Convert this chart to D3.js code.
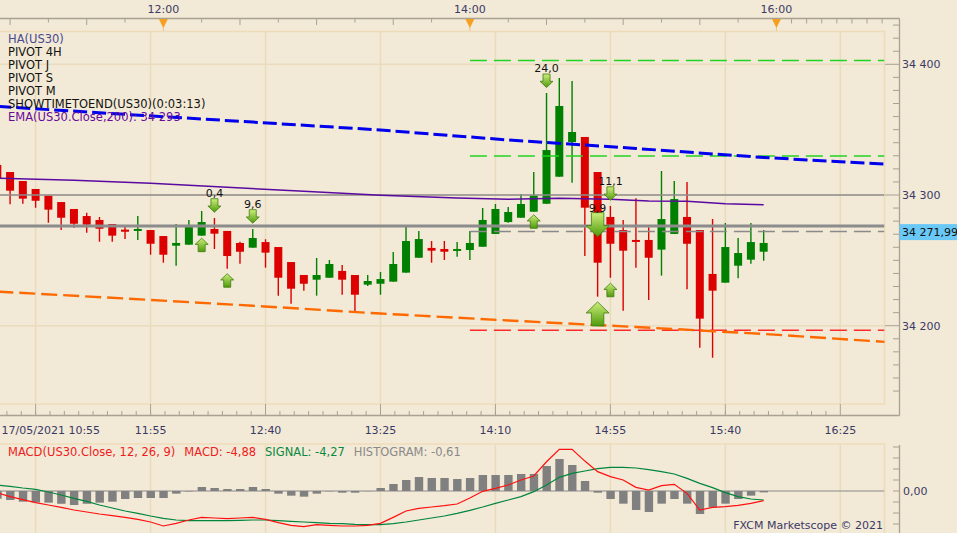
<!DOCTYPE html>
<html>
<head>
<meta charset="utf-8">
<script src="https://cdn.jsdelivr.net/npm/d3@7"></script>
<style>
  body { margin: 0; background: #f2e9d6; }
  svg { display: block; font-family: "DejaVu Sans", sans-serif; font-size: 11px; }
  .legend { font-size: 11.5px; }
</style>
</head>
<body>
<svg id="chart" width="957" height="533"></svg>
<script>
// 5 minute Heikin-Ashi candles, 17/05/2021
var times = ['10:55','11:00','11:05','11:10','11:15','11:20','11:25','11:30','11:35','11:40',
  '11:45','11:50','11:55','12:00','12:05','12:10','12:15','12:20','12:25','12:30',
  '12:35','12:40','12:45','12:50','12:55','13:00','13:05','13:10','13:15','13:20',
  '13:25','13:30','13:35','13:40','13:45','13:50','13:55','14:00','14:05','14:10',
  '14:15','14:20','14:25','14:30','14:35','14:40','14:45','14:50','14:55','15:00',
  '15:05','15:10','15:15','15:20','15:25','15:30','15:35','15:40','15:45','15:50','15:55'];

var haOpen = [34323.0,34317.6,34310.7,34304.6,34299.5,34294.6,34289.3,34283.9,34280.9,34277.8,
  34273.5,34272.7,34273.2,34268.6,34261.2,34262.0,34268.9,34274.0,34272.5,34263.3,
  34259.7,34264.0,34260.2,34248.7,34238.8,34235.2,34236.7,34241.9,34238.8,34231.4,
  34232.1,34233.7,34240.6,34252.0,34259.5,34258.7,34257.4,34257.9,34260.4,34270.2,
  34279.3,34282.6,34287.2,34293.3,34314.0,34340.5,34344.4,34317.6,34283.2,34273.2,
  34265.6,34265.6,34258.2,34270.2,34283.2,34273.2,34239.6,34232.9,34245.9,34250.5,34256.6];
var haHigh = [34325.0,34317.6,34310.7,34304.6,34299.5,34294.6,34289.3,34286.5,34283.2,34277.8,
  34276.8,34283.9,34273.2,34268.6,34277.8,34280.9,34287.8,34282.4,34272.5,34264.3,
  34274.0,34266.1,34260.2,34248.7,34238.8,34251.8,34250.3,34246.4,34238.8,34238.8,
  34241.1,34256.4,34275.7,34272.5,34264.8,34264.8,34264.0,34272.5,34290.1,34293.1,
  34290.8,34300.8,34317.6,34378.0,34389.5,34387.2,34344.4,34317.6,34291.6,34280.9,
  34297.5,34275.3,34318.4,34310.7,34309.9,34273.2,34281.6,34278.6,34267.1,34278.6,34273.2];
var haLow = [34310.0,34292.9,34293.3,34290.3,34278.8,34273.2,34275.0,34271.2,34264.3,34264.3,
  34266.3,34265.6,34254.3,34248.2,34245.9,34262.0,34268.9,34258.7,34243.6,34247.4,
  34259.7,34244.4,34223.0,34216.8,34226.8,34223.0,34236.7,34223.7,34211.3,34230.4,
  34223.7,34233.7,34240.6,34252.0,34248.2,34250.3,34252.8,34250.3,34260.4,34270.2,
  34278.8,34282.6,34287.2,34293.3,34314.0,34309.4,34253.3,34222.2,34236.7,34211.5,
  34244.4,34219.7,34238.3,34270.2,34227.9,34183.2,34175.5,34232.9,34236.3,34247.4,34249.7];
var haClose = [34312.8,34303.3,34297.2,34295.6,34288.8,34282.6,34278.0,34277.3,34274.2,34268.9,
  34271.9,34274.0,34262.7,34254.3,34263.3,34275.5,34279.3,34270.4,34253.3,34256.6,
  34267.1,34255.9,34236.7,34228.3,34232.1,34238.8,34247.2,34235.2,34223.7,34234.2,
  34235.7,34247.2,34264.8,34266.3,34257.4,34256.6,34258.7,34263.3,34280.9,34289.3,
  34287.0,34293.1,34299.5,34334.4,34368.1,34348.2,34290.3,34248.2,34262.7,34257.4,
  34264.3,34252.0,34281.6,34296.9,34262.7,34205.4,34226.8,34260.2,34255.6,34264.0,34263.3];

// EMA(200) on close (purple)
var emaTimes = ['10:55','11:25','11:55','12:25','12:55','13:25','13:55','14:15','14:35','14:55','15:10','15:25','15:40','15:55'];
var emaValues = [34312.8,34311.2,34309.0,34305.9,34302.8,34299.8,34297.7,34296.7,34297.5,34296.7,34295.4,34295.2,34293.3,34292.6];

// channel lines (blue upper, orange lower)
var channelTimes = ['10:55','11:45','12:35','13:25','14:15','15:05','15:55','16:45'];
var upperValues = [34367.8,34361.7,34355.8,34349.7,34342.1,34335.6,34328.7,34323.3];
var lowerValues = [34226.1,34220.8,34215.3,34209.3,34204.0,34199.0,34193.7,34187.3];

// pivot levels
var fullLevels = [34300, 34276.3];
var sessionStart = '14:00';
var sessionLevels = [34403, 34329.8, 34196.5];
var sessionKinds = ['resistance', 'resistance', 'support'];
var lastPrice = 34271.99;

// signal arrows
var arrowTimes = ['12:20','12:35','14:30','14:55','14:50','12:15','12:25','14:25','14:55','14:50'];
var arrowPrices = [34292.0,34283.6,34387.4,34301.1,34277.3,34261.8,34234.6,34279.7,34227.3,34209.0];
var arrowKinds = ['sell','sell','sell','sell','strongSell','buy','buy','buy','buy','strongBuy'];
var arrowLabels = ['0,4','9,6','24,0','11,1','9,9','','','','',''];

// MACD(12, 26, 9)
var macdLine = [-0.76,-2.58,-3.94,-5.30,-6.36,-7.42,-8.64,-9.55,-10.45,-11.21,
  -11.97,-12.88,-14.09,-15.91,-14.70,-13.18,-11.97,-12.27,-12.58,-12.27,
  -11.97,-12.88,-14.39,-15.61,-16.21,-15.30,-15.61,-15.91,-15.91,-15.61,
  -14.70,-11.97,-9.09,-7.88,-7.27,-6.67,-5.91,-3.18,-0.15,1.21,
  2.73,5.00,6.82,13.30,18.94,18.94,13.60,8.80,6.52,5.00,
  1.67,0.45,2.42,3.03,-1.06,-8.64,-7.42,-7.12,-6.52,-5.61,-4.39];
var signalLine = [2.73,2.12,1.36,0.76,-0.45,-1.82,-3.33,-4.70,-6.36,-7.73,
  -9.09,-10.15,-11.36,-12.42,-13.18,-13.48,-13.48,-13.48,-13.48,-13.33,
  -13.18,-13.18,-13.48,-13.79,-14.09,-14.39,-14.70,-14.85,-15.15,-15.30,
  -15.30,-14.85,-14.09,-13.18,-12.27,-11.36,-10.15,-8.79,-7.27,-5.61,
  -4.09,-2.58,-0.30,2.73,6.21,8.03,9.09,10.15,10.76,10.76,
  10.45,9.70,8.79,7.73,5.76,3.48,1.52,-0.76,-2.58,-3.64,-4.09];
var histogram = [-3.5,-4.10,-4.85,-5.15,-5.30,-5.80,-6.36,-5.80,-5.30,-4.85,
  -3.64,-3.18,-3.18,-3.18,-1.21,-0.20,1.82,1.36,0.91,0.91,
  1.82,0.91,-1.21,-2.12,-2.58,-1.21,-0.15,-0.76,-0.76,-0.10,
  1.36,3.18,5.00,6.36,5.91,5.91,5.45,5.91,7.27,7.27,
  7.27,7.73,7.73,11.36,14.55,11.82,4.55,-0.76,-3.64,-5.76,
  -8.64,-9.55,-5.76,-3.64,-5.76,-10.45,-7.42,-5.76,-3.64,-2.12,-0.61];

// axes
var priceTicks = [34200, 34300, 34400];
var macdTicks = [-15, -10, -5, 0, 5, 10, 15, 20];
var gridTimes = ['11:10','11:55','12:40','13:25','14:10','14:55','15:40','16:25'];
var bottomLabelTimes = ['10:55','11:55','12:40','13:25','14:10','14:55','15:40','16:25'];
var bottomLabels = ['17/05/2021 10:55','11:55','12:40','13:25','14:10','14:55','15:40','16:25'];
var topLabels = ['12:00','14:00','16:00'];
var legendLines = ['HA(US30)','PIVOT 4H','PIVOT J','PIVOT S','PIVOT M','SHOWTIMETOEND(US30)(0:03:13)','EMA(US30.Close,200): 34 293'];

var locale = d3.formatLocale({ decimal: ',', thousands: ' ', grouping: [3], currency: ['', ''], minus: '-' });
var fmtPrice = locale.format(',.0f');
var fmtLast = locale.format(',.2f');
var fmtMacd = locale.format('.2f');

var parseTime = d3.timeParse('%H:%M');
var x = d3.scaleTime().domain([parseTime('10:55'), parseTime('16:25')]).range([-2.7, 840.3]);
var y = d3.scaleLinear().domain([34200, 34400]).range([325.7, 64.3]);
var yMacd = d3.scaleLinear().domain([-15, 20]).range([524, 447]);

var plot = { left: 0, right: 884.5, top: 31.5, bottom: 404 };
var macdPanel = { top: 444, bottom: 533 };
var axisX = 899.5;
var textColor = '#3a3a66';
var axisColor = '#a9a292';
var gridColor = '#ebdbbd';

var svg = d3.select('#chart');
var defs = svg.append('defs');
defs.append('clipPath').attr('id', 'plotClip')
  .append('rect')
  .attr('x', plot.left).attr('y', plot.top)
  .attr('width', plot.right - plot.left).attr('height', plot.bottom - plot.top);
defs.append('clipPath').attr('id', 'macdClip')
  .append('rect')
  .attr('x', 0).attr('y', macdPanel.top)
  .attr('width', plot.right).attr('height', macdPanel.bottom - macdPanel.top);
var grad = defs.append('linearGradient').attr('id', 'arrowFill')
  .attr('x1', 0).attr('y1', 0).attr('x2', 0).attr('y2', 1);
grad.append('stop').attr('offset', '0%').attr('stop-color', '#cdee7a');
grad.append('stop').attr('offset', '100%').attr('stop-color', '#4f9a0c');

var candles = times.map(function (t, i) {
  return { t: parseTime(t), o: haOpen[i], h: haHigh[i], l: haLow[i], c: haClose[i] };
});

// ---- grid
var grid = svg.append('g');
grid.selectAll('line.vgrid')
  .data(gridTimes)
  .enter().append('line')
  .attr('x1', function (d) { return x(parseTime(d)); })
  .attr('x2', function (d) { return x(parseTime(d)); })
  .attr('y1', plot.top).attr('y2', plot.bottom)
  .attr('stroke', gridColor).attr('stroke-width', 1.5);
grid.selectAll('line.mgrid')
  .data(gridTimes)
  .enter().append('line')
  .attr('x1', function (d) { return x(parseTime(d)); })
  .attr('x2', function (d) { return x(parseTime(d)); })
  .attr('y1', macdPanel.top).attr('y2', macdPanel.bottom)
  .attr('stroke', gridColor).attr('stroke-width', 1.5);
grid.selectAll('line.hgrid')
  .data(priceTicks)
  .enter().append('line')
  .attr('x1', plot.left).attr('x2', plot.right)
  .attr('y1', function (d) { return y(d); })
  .attr('y2', function (d) { return y(d); })
  .attr('stroke', gridColor).attr('stroke-width', 1.5);
grid.append('rect')
  .attr('x', -2).attr('y', plot.top)
  .attr('width', plot.right + 2).attr('height', plot.bottom - plot.top)
  .attr('fill', 'none').attr('stroke', '#efdbb9').attr('stroke-width', 1.5);
grid.append('rect')
  .attr('x', -2).attr('y', macdPanel.top)
  .attr('width', plot.right + 2).attr('height', 100)
  .attr('fill', 'none').attr('stroke', '#efdbb9').attr('stroke-width', 1.5);

// ---- candles
var main = svg.append('g').attr('clip-path', 'url(#plotClip)');
var candleG = main.selectAll('g.candle')
  .data(candles)
  .enter().append('g')
  .attr('class', 'candle');
candleG.append('line')
  .attr('x1', function (d) { return x(d.t); })
  .attr('x2', function (d) { return x(d.t); })
  .attr('y1', function (d) { return y(d.h); })
  .attr('y2', function (d) { return y(d.l); })
  .attr('stroke', function (d) { return d.c >= d.o ? '#008000' : '#dd0000'; })
  .attr('stroke-width', 1.4);
candleG.append('rect')
  .attr('x', function (d) { return x(d.t) - 4; })
  .attr('width', 8)
  .attr('y', function (d) { return y(Math.max(d.o, d.c)); })
  .attr('height', function (d) { return Math.max(2, Math.abs(y(d.o) - y(d.c))); })
  .attr('fill', function (d) { return d.c >= d.o ? '#008000' : '#dd0000'; });

// ---- pivot levels
main.selectAll('line.full')
  .data(fullLevels)
  .enter().append('line')
  .attr('x1', plot.left).attr('x2', plot.right)
  .attr('y1', function (d) { return y(d); })
  .attr('y2', function (d) { return y(d); })
  .attr('stroke', '#8c8c8c')
  .attr('stroke-width', function (d, i) { return i === 0 ? 1.5 : 3; });
main.selectAll('line.session')
  .data(sessionLevels)
  .enter().append('line')
  .attr('x1', x(parseTime(sessionStart))).attr('x2', plot.right)
  .attr('y1', function (d) { return y(d); })
  .attr('y2', function (d) { return y(d); })
  .attr('stroke', function (d, i) { return sessionKinds[i] === 'support' ? '#ff2a2a' : '#22d422'; })
  .attr('stroke-width', 1.5)
  .attr('stroke-dasharray', '17,7');
main.append('line')
  .attr('x1', x(parseTime(sessionStart))).attr('x2', plot.right)
  .attr('y1', y(lastPrice)).attr('y2', y(lastPrice))
  .attr('stroke', '#8a8a8a').attr('stroke-width', 1.5)
  .attr('stroke-dasharray', '17,7');

// ---- indicator lines
var priceLine = d3.line()
  .x(function (d) { return x(d[0]); })
  .y(function (d) { return y(d[1]); });
main.append('path')
  .datum(emaTimes.map(function (t, i) { return [parseTime(t), emaValues[i]]; }))
  .attr('d', priceLine)
  .attr('fill', 'none').attr('stroke', '#5a0aa0').attr('stroke-width', 1.5);
main.append('path')
  .datum(channelTimes.map(function (t, i) { return [parseTime(t), upperValues[i]]; }))
  .attr('d', priceLine)
  .attr('fill', 'none').attr('stroke', '#0000ee').attr('stroke-width', 3)
  .attr('stroke-dasharray', '14,5');
main.append('path')
  .datum(channelTimes.map(function (t, i) { return [parseTime(t), lowerValues[i]]; }))
  .attr('d', priceLine)
  .attr('fill', 'none').attr('stroke', '#ff6a00').attr('stroke-width', 2.4)
  .attr('stroke-dasharray', '16,6');

// ---- signal arrows
function arrowPath(dir, w, h) {
  // centred at 0,0 ; dir 1 = down, -1 = up
  var s = w * 0.27, mid = h * 0.04;
  var pts = [[-s, -h / 2], [s, -h / 2], [s, mid], [w / 2, mid], [0, h / 2], [-w / 2, mid], [-s, mid]];
  return 'M' + pts.map(function (p) { return p[0] + ',' + (p[1] * dir); }).join('L') + 'Z';
}
var arrows = arrowTimes.map(function (t, i) {
  return { t: parseTime(t), p: arrowPrices[i], kind: arrowKinds[i], label: arrowLabels[i] };
});
var arrowG = svg.append('g').selectAll('g.arrow')
  .data(arrows)
  .enter().append('g')
  .attr('transform', function (d) { return 'translate(' + x(d.t) + ',' + y(d.p) + ')'; });
arrowG.append('path')
  .attr('d', function (d) {
    var big = d.kind.indexOf('strong') === 0;
    var dir = /Sell|sell/.test(d.kind) ? 1 : -1;
    return big ? arrowPath(dir, 23, 24) : arrowPath(dir, 13, 13.5);
  })
  .attr('fill', 'url(#arrowFill)')
  .attr('stroke', '#3f7d10').attr('stroke-width', 0.8);
arrowG.append('text')
  .attr('text-anchor', 'middle')
  .attr('y', function (d) { return d.kind === 'strongSell' ? -13 : -8.5; })
  .attr('fill', '#111')
  .text(function (d) { return d.label; });

// ---- top time axis
var topAxis = svg.append('g');
topAxis.append('line')
  .attr('x1', 0).attr('x2', axisX).attr('y1', 18.5).attr('y2', 18.5)
  .attr('stroke', axisColor).attr('stroke-width', 1.3);
var topTicks = d3.timeMinute.every(15).range(parseTime('11:00'), parseTime('16:00'));
topAxis.selectAll('line.tt')
  .data(topTicks)
  .enter().append('line')
  .attr('x1', function (d) { return x(d); })
  .attr('x2', function (d) { return x(d); })
  .attr('y1', 18.5)
  .attr('y2', function (d) { return d.getMinutes() % 30 === 0 ? 25 : 22.5; })
  .attr('stroke', axisColor);
topAxis.selectAll('line.tf')
  .data(d3.range(1, 8))
  .enter().append('line')
  .attr('x1', function (d) { return x(parseTime('16:00')) + d * 15.1; })
  .attr('x2', function (d) { return x(parseTime('16:00')) + d * 15.1; })
  .attr('y1', 18.5).attr('y2', 23.5)
  .attr('stroke', axisColor);
topAxis.selectAll('text')
  .data(topLabels)
  .enter().append('text')
  .attr('x', function (d) { return x(parseTime(d)); })
  .attr('y', 12.5)
  .attr('text-anchor', 'middle')
  .attr('fill', textColor)
  .text(function (d) { return d; });
topAxis.selectAll('line.mstem')
  .data(topLabels)
  .enter().append('line')
  .attr('x1', function (d) { return x(parseTime(d)); })
  .attr('x2', function (d) { return x(parseTime(d)); })
  .attr('y1', 27).attr('y2', 31)
  .attr('stroke', '#e8c890');
topAxis.selectAll('path.marker')
  .data(topLabels)
  .enter().append('path')
  .attr('d', function (d) {
    var cx = x(parseTime(d));
    return 'M' + (cx - 4.5) + ',19L' + (cx + 4.5) + ',19L' + cx + ',28Z';
  })
  .attr('fill', '#f5a020');

// ---- bottom time axis
var bottomAxis = svg.append('g');
bottomAxis.append('line')
  .attr('x1', 0).attr('x2', axisX).attr('y1', 415.5).attr('y2', 415.5)
  .attr('stroke', axisColor).attr('stroke-width', 1.3);
var x0 = x(parseTime('11:10'));
var step = (x(parseTime('11:55')) - x0) / 8;
var minorBottom = d3.range(-2, 56).map(function (k) { return x0 + k * step; })
  .filter(function (v) { return v > 0 && v < axisX - 4; });
bottomAxis.selectAll('line.bt')
  .data(minorBottom)
  .enter().append('line')
  .attr('x1', function (d) { return d; })
  .attr('x2', function (d) { return d; })
  .attr('y1', 411)
  .attr('y2', 415.5)
  .attr('stroke', axisColor);
bottomAxis.selectAll('line.bmaj')
  .data(gridTimes)
  .enter().append('line')
  .attr('x1', function (d) { return x(parseTime(d)); })
  .attr('x2', function (d) { return x(parseTime(d)); })
  .attr('y1', 404).attr('y2', 415.5)
  .attr('stroke', axisColor);
bottomAxis.selectAll('text')
  .data(bottomLabels)
  .enter().append('text')
  .attr('x', function (d, i) { return i === 0 ? 1.5 : x(parseTime(bottomLabelTimes[i])); })
  .attr('y', 434)
  .attr('text-anchor', function (d, i) { return i === 0 ? 'start' : 'middle'; })
  .attr('fill', textColor)
  .text(function (d) { return d; });

// ---- right price axis
var priceAxis = svg.append('g');
priceAxis.append('line')
  .attr('x1', axisX).attr('x2', axisX).attr('y1', 18.5).attr('y2', 415.5)
  .attr('stroke', axisColor).attr('stroke-width', 1.3);
var minorPrices = d3.range(34140, 34450, 10).filter(function (p) { return y(p) > 24 && y(p) < 404; });
priceAxis.selectAll('line.pt')
  .data(minorPrices)
  .enter().append('line')
  .attr('x1', function (d) { return d % 100 === 0 ? 885 : 893; })
  .attr('x2', axisX)
  .attr('y1', function (d) { return y(d); })
  .attr('y2', function (d) { return y(d); })
  .attr('stroke', axisColor);
priceAxis.selectAll('text')
  .data(priceTicks)
  .enter().append('text')
  .attr('x', 902)
  .attr('y', function (d) { return y(d) + 4; })
  .attr('fill', textColor)
  .text(function (d) { return fmtPrice(d); });
priceAxis.append('rect')
  .attr('x', axisX).attr('y', y(lastPrice) - 7.5)
  .attr('width', 957 - axisX).attr('height', 16)
  .attr('fill', '#6ac8f6');
priceAxis.append('text')
  .attr('x', 902).attr('y', y(lastPrice) + 4.5)
  .attr('fill', '#111')
  .text(fmtLast(lastPrice));

// ---- legend
svg.append('g').selectAll('text')
  .data(legendLines)
  .enter().append('text')
  .attr('class', 'legend')
  .attr('x', 8)
  .attr('y', function (d, i) { return 43 + i * 13; })
  .attr('fill', function (d, i) {
    if (i === 0) return '#4a4a90';
    if (i === legendLines.length - 1) return '#6a0a9a';
    return '#111';
  })
  .text(function (d) { return d; });

// ---- MACD panel
var macdG = svg.append('g').attr('clip-path', 'url(#macdClip)');
macdG.append('line')
  .attr('x1', 0).attr('x2', plot.right)
  .attr('y1', yMacd(0)).attr('y2', yMacd(0))
  .attr('stroke', '#8a8a8a').attr('stroke-width', 1.2);
macdG.selectAll('rect.hist')
  .data(histogram)
  .enter().append('rect')
  .attr('x', function (d, i) { return x(parseTime(times[i])) - 4; })
  .attr('width', 8.4)
  .attr('y', function (d) { return yMacd(Math.max(0, d)); })
  .attr('height', function (d) { return Math.abs(yMacd(d) - yMacd(0)); })
  .attr('fill', '#808080');
var macdPath = d3.line()
  .x(function (d, i) { return x(parseTime(times[i])); })
  .y(function (d) { return yMacd(d); });
macdG.append('path').datum(signalLine)
  .attr('d', macdPath)
  .attr('fill', 'none').attr('stroke', '#00863c').attr('stroke-width', 1.2);
macdG.append('path').datum(macdLine)
  .attr('d', macdPath)
  .attr('fill', 'none').attr('stroke', '#ff1010').attr('stroke-width', 1.2);

var macdAxis = svg.append('g');
macdAxis.append('line')
  .attr('x1', axisX).attr('x2', axisX).attr('y1', 445).attr('y2', 533)
  .attr('stroke', axisColor).attr('stroke-width', 1.3);
macdAxis.selectAll('line.mt')
  .data(macdTicks)
  .enter().append('line')
  .attr('x1', 893).attr('x2', axisX)
  .attr('y1', function (d) { return yMacd(d); })
  .attr('y2', function (d) { return yMacd(d); })
  .attr('stroke', axisColor);
macdAxis.append('text')
  .attr('x', 903).attr('y', yMacd(0) + 4)
  .attr('fill', textColor)
  .text(fmtMacd(0));

var macdTitle = svg.append('text').attr('class', 'legend').attr('x', 8).attr('y', 456);
macdTitle.append('tspan').attr('fill', '#ee1c1c').text('MACD(US30.Close, 12, 26, 9)');
macdTitle.append('tspan').attr('dx', 9).attr('fill', '#ee1c1c').text('MACD: ' + fmtMacd(-4.88));
macdTitle.append('tspan').attr('dx', 9).attr('fill', '#0a8a40').text('SIGNAL: ' + fmtMacd(-4.27));
macdTitle.append('tspan').attr('dx', 9).attr('fill', '#8a8a8a').text('HISTOGRAM: ' + fmtMacd(-0.61));

svg.append('text')
  .attr('x', 883).attr('y', 529)
  .attr('text-anchor', 'end')
  .attr('fill', textColor)
  .text('FXCM Marketscope \u00a9 2021');
</script>
</body>
</html>
